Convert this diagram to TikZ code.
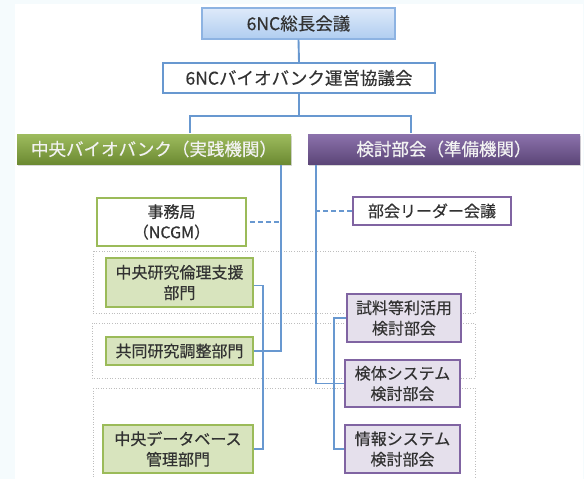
\documentclass[tikz,border=0pt]{standalone}
\usepackage{fontspec}
\setmainfont{Noto Sans CJK JP}[FakeBold=0.4]
\usetikzlibrary{shadows}
\definecolor{bgc}{RGB}{245,251,253}
\definecolor{conn}{RGB}{104,152,208}
\definecolor{topbd}{RGB}{141,179,226}
\definecolor{toptop}{RGB}{222,234,250}
\definecolor{topbot}{RGB}{176,205,240}
\definecolor{grbd}{RGB}{155,187,89}
\definecolor{grfill}{RGB}{216,228,190}
\definecolor{grtop}{RGB}{158,188,94}
\definecolor{grbot}{RGB}{108,138,50}
\definecolor{pubd}{RGB}{128,100,162}
\definecolor{pufill}{RGB}{229,224,236}
\definecolor{putop}{RGB}{140,114,172}
\definecolor{pubot}{RGB}{92,70,120}
\definecolor{txt}{RGB}{50,50,50}
\definecolor{hdtxt}{RGB}{242,242,242}
\definecolor{frm}{RGB}{190,190,190}
\tikzset{
  box/.style={draw, line width=1.8pt, inner sep=0pt, align=center, text=txt,
    font=\fontsize{16}{20.5}\selectfont},
  bigbox/.style={box, font=\fontsize{17.5}{20}\selectfont},
  topbox/.style={bigbox, draw=topbd, line width=1.2pt, top color=toptop, bottom color=topbot},
  midbox/.style={bigbox, draw=conn, fill=white},
  hshadow/.style={drop shadow={opacity=0.3, shadow xshift=0.6pt, shadow yshift=-1.5pt}},
  grhead/.style={bigbox, draw=none, top color=grtop, bottom color=grbot, text=hdtxt, hshadow},
  puhead/.style={bigbox, draw=none, top color=putop, bottom color=pubot, text=hdtxt, hshadow},
  grwhite/.style={box, draw=grbd, fill=white},
  grlight/.style={box, draw=grbd, fill=grfill},
  puwhite/.style={box, draw=pubd, fill=white},
  pulight/.style={box, draw=pubd, fill=pufill},
  link/.style={draw=conn, line width=1.9pt},
  dlink/.style={link, dash pattern=on 5pt off 3pt},
  frame/.style={draw=frm, line width=0.6pt, dotted},
}
\begin{document}
\begin{tikzpicture}[x=1pt, y=-1pt]
\fill[bgc] (0,0) rectangle (584,479);
\fill[white] (15,4) rectangle (583,479);
\useasboundingbox (0,0) rectangle (584,479);

% grouping frames
\draw[frame] (93,251) rectangle (475,313);
\draw[frame] (92,323) rectangle (475,378);
\draw[frame] (93,388) -- (475,388) -- (475,482);
\draw[frame] (93,388) -- (93,482);

\node[topbox, minimum width=193pt, minimum height=31pt] (top) at (298.5,23.5) {6NC総長会議};
\node[midbox, minimum width=272pt, minimum height=30pt] (mid) at (299,78) {6NCバイオバンク運営協議会};
\node[grhead, minimum width=274pt, minimum height=30pt] (green) at (154,149) {中央バイオバンク（実践機関）};
\node[puhead, minimum width=272pt, minimum height=30pt] (purple) at (444,149) {検討部会（準備機関）};

\node[grwhite, minimum width=149pt, minimum height=48pt] (jimu) at (171.5,222) {事務局\\（NCGM）};
\node[grlight, minimum width=147pt, minimum height=49pt] (rinri) at (179.5,282.5) {中央研究倫理支援\\部門};
\node[grlight, minimum width=147pt, minimum height=28pt] (kyodo) at (179.5,351) {共同研究調整部門};
\node[grlight, minimum width=150pt, minimum height=48pt] (db) at (178,449) {中央データベース\\管理部門};

\node[puwhite, minimum width=158pt, minimum height=28pt] (leader) at (432,211) {部会リーダー会議};
\node[pulight, minimum width=114pt, minimum height=48pt] (shiryo) at (404,318) {試料等利活用\\検討部会};
\node[pulight, minimum width=115pt, minimum height=47pt] (kentai) at (402.5,383.5) {検体システム\\検討部会};
\node[pulight, minimum width=115pt, minimum height=48pt] (joho) at (402.5,449) {情報システム\\検討部会};

\coordinate (jm) at (299,116);
\coordinate (jl) at (190,116);
\coordinate (jr) at (411,116);
\coordinate (lv) at (281,170);
\coordinate (gx) at (263,300);
\coordinate (rv) at (316,170);
\coordinate (px) at (334,300);

\draw[link] (top.south) -- (mid.north);
\draw[link] (mid.south) -- (jm);
\draw[link] (green.north -| jl) -- (jl) -- (jr) -- (purple.north -| jr);

\draw[link] (green.south -| lv) -- (kyodo.east -| lv) -- (kyodo.east);
\draw[dlink] ([xshift=3pt]jimu.east) -- (jimu.east -| lv);
\draw[link] ([yshift=-3pt]rinri.east) -- ([yshift=-3pt]rinri.east -| gx) -- (db.east -| gx) -- (db.east);

\draw[link] (purple.south -| rv) -- (kentai.west -| rv) -- (kentai.west);
\draw[dlink] (leader.west) -- (leader.west -| rv);
\draw[link] (shiryo.west) -- (shiryo.west -| px) -- (joho.west -| px) -- (joho.west);
\end{tikzpicture}
\end{document}
